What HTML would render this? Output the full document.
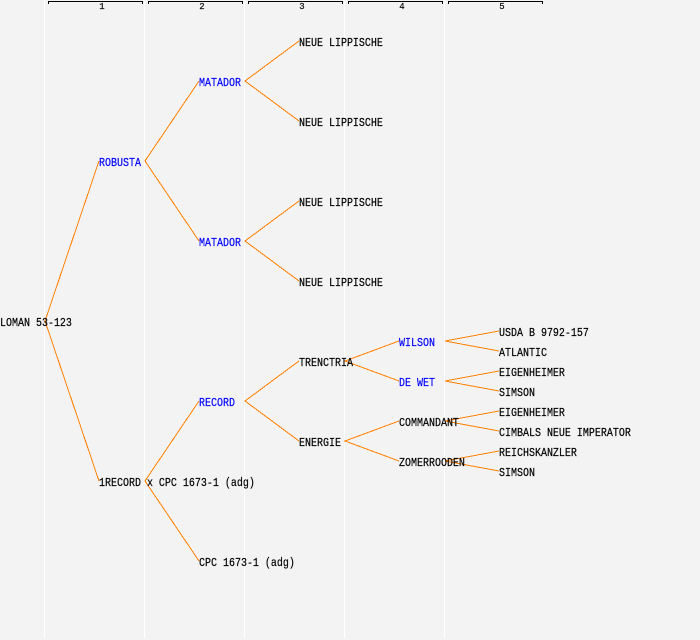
<!DOCTYPE html>
<html>
<head>
<meta charset="utf-8">
<style>
html,body{margin:0;padding:0;background:#f3f3f3;width:700px;height:640px;overflow:hidden}
svg{display:block}
text{font-family:"Liberation Mono",monospace;font-size:12px;fill:#000;stroke:#000;stroke-width:.2}
text.b{fill:#0000ff;stroke:#0000ff}
text.h{font-size:9px;text-anchor:middle;stroke-width:.15}
</style>
</head>
<body>
<svg width="700" height="640" viewBox="0 0 700 640" xmlns="http://www.w3.org/2000/svg">
<rect width="700" height="640" fill="#f3f3f3"/>
<g fill="#ffffff">
<rect x="44" y="0" width="1" height="638"/>
<rect x="144" y="0" width="1" height="638"/>
<rect x="244" y="0" width="1" height="638"/>
<rect x="344" y="0" width="1" height="638"/>
<rect x="444" y="0" width="1" height="638"/>
</g>
<g fill="none" stroke="#000" stroke-width="1" shape-rendering="crispEdges">
<path d="M48.5 4V1.5H142.5V4"/>
<path d="M148.5 4V1.5H242.5V4"/>
<path d="M248.5 4V1.5H342.5V4"/>
<path d="M348.5 4V1.5H442.5V4"/>
<path d="M448.5 4V1.5H542.5V4"/>
</g>
<text class="h" x="102" y="9">1</text>
<text class="h" x="202" y="9">2</text>
<text class="h" x="302" y="9">3</text>
<text class="h" x="402" y="9">4</text>
<text class="h" x="502" y="9">5</text>
<g fill="none" stroke="#ff8000" stroke-width="1" shape-rendering="crispEdges">
<path d="M99 161L45 321L99 481"/>
<path d="M199 81L145 161L199 241"/>
<path d="M199 401L145 481L199 561"/>
<path d="M299 41L245 81L299 121"/>
<path d="M299 201L245 241L299 281"/>
<path d="M299 361L245 401L299 441"/>
<path d="M399 341L345 361L399 381"/>
<path d="M399 421L345 441L399 461"/>
<path d="M499 331L445 341L499 351"/>
<path d="M499 371L445 381L499 391"/>
<path d="M499 411L445 421L499 431"/>
<path d="M499 451L445 461L499 471"/>
</g>
<g transform="scale(0.83333 1)">
<text x="0" y="326">LOMAN 53-123</text>
<text class="b" x="118.8" y="166">ROBUSTA</text>
<text x="118.8" y="486">1RECORD x CPC 1673-1 (adg)</text>
<text class="b" x="238.8" y="86">MATADOR</text>
<text class="b" x="238.8" y="246">MATADOR</text>
<text class="b" x="238.8" y="406">RECORD</text>
<text x="238.8" y="566">CPC 1673-1 (adg)</text>
<text x="358.8" y="46">NEUE LIPPISCHE</text>
<text x="358.8" y="126">NEUE LIPPISCHE</text>
<text x="358.8" y="206">NEUE LIPPISCHE</text>
<text x="358.8" y="286">NEUE LIPPISCHE</text>
<text x="358.8" y="366">TRENCTRIA</text>
<text x="358.8" y="446">ENERGIE</text>
<text class="b" x="478.8" y="346">WILSON</text>
<text class="b" x="478.8" y="386">DE WET</text>
<text x="478.8" y="426">COMMANDANT</text>
<text x="478.8" y="466">ZOMERROODEN</text>
<text x="598.8" y="336">USDA B 9792-157</text>
<text x="598.8" y="356">ATLANTIC</text>
<text x="598.8" y="376">EIGENHEIMER</text>
<text x="598.8" y="396">SIMSON</text>
<text x="598.8" y="416">EIGENHEIMER</text>
<text x="598.8" y="436">CIMBALS NEUE IMPERATOR</text>
<text x="598.8" y="456">REICHSKANZLER</text>
<text x="598.8" y="476">SIMSON</text>
</g>
</svg>
</body>
</html>
